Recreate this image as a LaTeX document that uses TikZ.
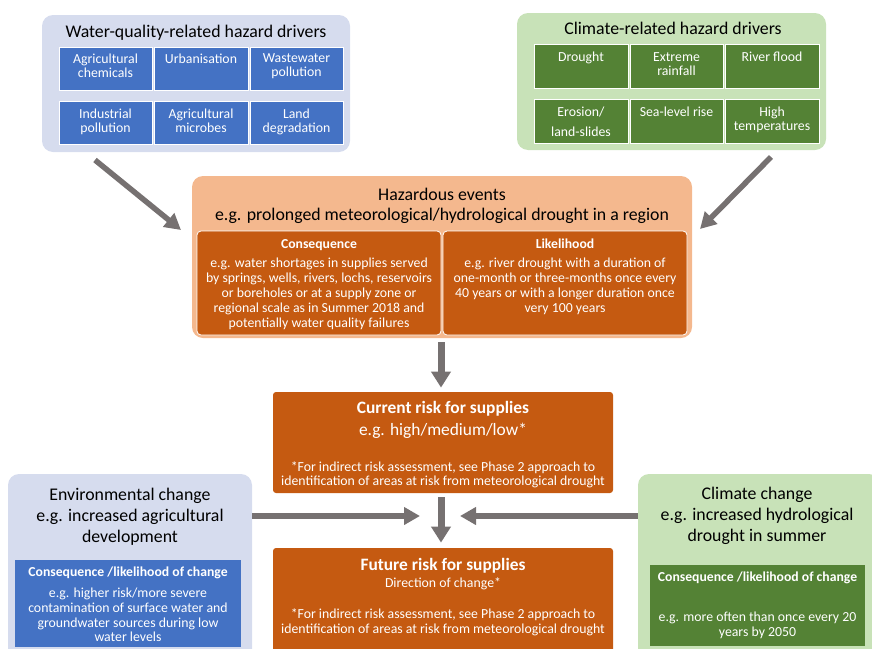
\documentclass[tikz,border=0pt]{standalone}
\usepackage{fontspec}
\setmainfont{Carlito}
\usetikzlibrary{arrows.meta,positioning}
\definecolor{wqlight}{HTML}{D6DCEE}
\definecolor{wqdark}{HTML}{4472C4}
\definecolor{clight}{HTML}{C8E2B8}
\definecolor{cdark}{HTML}{548235}
\definecolor{hzlight}{HTML}{F4B88E}
\definecolor{hzdark}{HTML}{C55A11}
\definecolor{arrowgrey}{HTML}{767171}
\begin{document}
\begin{tikzpicture}[x=1pt,y=-1pt,
    outer/.style={rounded corners=11pt, inner sep=0pt},
    cell/.style={draw=white, line width=0.8pt, inner sep=0pt},
    celltext/.style={anchor=north, inner sep=0pt, align=center, text=white,
      font=\fontsize{13.8}{14}\selectfont},
    titletext/.style={anchor=north, inner sep=0pt, align=center,
      font=\fontsize{17.8}{21}\selectfont},
    headtext/.style={anchor=north, inner sep=0pt, align=center, text=white,
      font=\fontsize{13.7}{14}\selectfont\bfseries},
    bigarrow/.style={draw=arrowgrey, line width=5.5pt, -{Triangle[length=16pt,width=17pt]}},
    downarrow/.style={draw=arrowgrey, line width=7pt, -{Triangle[length=16pt,width=19pt]}}]
  \useasboundingbox (0,0) rectangle (872,648);
  \clip (0,0) rectangle (872,648);

  % water quality drivers
  \node[outer, fill=wqlight, minimum width=308pt, minimum height=137pt] (wq) at (196,83.5) {};
  \node[titletext] (wqtitle) at (196,24.5) {Water-quality-related hazard drivers};
  \node[cell, fill=wqdark, minimum width=93pt, minimum height=43pt] (wq1) at (105.5,68.5) {};
  \node[cell, fill=wqdark, minimum width=94pt, minimum height=43pt] (wq2) at (201,68.5) {};
  \node[cell, fill=wqdark, minimum width=93pt, minimum height=43pt] (wq3) at (296.5,68.5) {};
  \node[cell, fill=wqdark, minimum width=93pt, minimum height=43pt] (wq4) at (105.5,122.5) {};
  \node[cell, fill=wqdark, minimum width=94pt, minimum height=43pt] (wq5) at (201,122.5) {};
  \node[cell, fill=wqdark, minimum width=93pt, minimum height=43pt] (wq6) at (296.5,122.5) {};
  \node[celltext, below=7pt of wq1.north] (wq1t) {Agricultural\\chemicals};
  \node[celltext, below=7pt of wq2.north] (wq2t) {Urbanisation};
  \node[celltext, below=7pt of wq3.north] (wq3t) {Wastewater\\pollution};
  \node[celltext, below=8.5pt of wq4.north] (wq4t) {Industrial\\pollution};
  \node[celltext, below=8.5pt of wq5.north] (wq5t) {Agricultural\\microbes};
  \node[celltext, below=8.5pt of wq6.north] (wq6t) {Land\\degradation};

  % climate drivers
  \node[outer, fill=clight, minimum width=309pt, minimum height=137pt] (cl) at (671.5,81.5) {};
  \node[titletext] (cltitle) at (673,21.5) {Climate-related hazard drivers};
  \node[cell, fill=cdark, minimum width=94pt, minimum height=44pt] (cl1) at (581,66) {};
  \node[cell, fill=cdark, minimum width=93pt, minimum height=44pt] (cl2) at (676.5,66) {};
  \node[cell, fill=cdark, minimum width=94pt, minimum height=44pt] (cl3) at (772,66) {};
  \node[cell, fill=cdark, minimum width=94pt, minimum height=44pt] (cl4) at (581,121) {};
  \node[cell, fill=cdark, minimum width=93pt, minimum height=44pt] (cl5) at (676.5,121) {};
  \node[cell, fill=cdark, minimum width=94pt, minimum height=44pt] (cl6) at (772,121) {};
  \node[celltext, below=8.5pt of cl1.north] (cl1t) {Drought};
  \node[celltext, below=8.5pt of cl2.north] (cl2t) {Extreme\\rainfall};
  \node[celltext, below=8.5pt of cl3.north] (cl3t) {River flood};
  \node[celltext, below=8.5pt of cl4.north] (cl4t) {Erosion/\\[6pt]land-slides};
  \node[celltext, below=8.5pt of cl5.north] (cl5t) {Sea-level rise};
  \node[celltext, below=8.5pt of cl6.north] (cl6t) {High\\temperatures};

  % hazardous events
  \node[outer, fill=hzlight, minimum width=500pt, minimum height=162pt] (hz) at (442,257) {};
  \node[titletext, font=\fontsize{17.8}{20}\selectfont] (hztitle) at (442,187.5)
    {Hazardous events\\e.g. prolonged meteorological/hydrological drought in a region};
  \node[cell, fill=hzdark, rounded corners=4pt, minimum width=244pt, minimum height=104pt] (cons) at (319,283) {};
  \node[cell, fill=hzdark, rounded corners=4pt, minimum width=244pt, minimum height=104pt] (like) at (565,283) {};
  \node[headtext, below=8.5pt of cons.north] (conshead) {Consequence};
  \node[headtext, below=8.5pt of like.north] (likehead) {Likelihood};
  \node[celltext, font=\fontsize{13.8}{15}\selectfont, below=27.5pt of cons.north] (constext)
    {e.g. water shortages in supplies served\\by springs, wells, rivers, lochs, reservoirs\\or boreholes or at a supply zone or\\regional scale as in Summer 2018 and\\potentially water quality failures};
  \node[celltext, font=\fontsize{13.8}{15}\selectfont, below=27.5pt of like.north] (liketext)
    {e.g. river drought with a duration of\\one-month or three-months once every\\40 years or with a longer duration once\\very 100 years};

  % current and future risk
  \node[cell, draw=none, fill=hzdark, rounded corners=3pt, minimum width=340pt, minimum height=101pt] (cur) at (443,442.5) {};
  \node[headtext, font=\fontsize{17.4}{18}\selectfont\bfseries, below=9.5pt of cur.north] (curhead) {Current risk for supplies};
  \node[titletext, font=\fontsize{17.4}{18}\selectfont, text=white, below=31pt of cur.north] (curtext) {e.g. high/medium/low*};
  \node[celltext, below=69.5pt of cur.north] (curnote)
    {*For indirect risk assessment, see Phase 2 approach to\\identification of areas at risk from meteorological drought};
  \node[cell, draw=none, fill=hzdark, rounded corners=3pt, minimum width=340pt, minimum height=112pt] (fut) at (443,604) {};
  \node[headtext, font=\fontsize{17.4}{18}\selectfont\bfseries, below=10.5pt of fut.north] (futhead) {Future risk for supplies};
  \node[celltext, below=29.5pt of fut.north] (futtext) {Direction of change*};
  \node[celltext, font=\fontsize{13.8}{15}\selectfont, below=60.5pt of fut.north] (futnote)
    {*For indirect risk assessment, see Phase 2 approach to\\identification of areas at risk from meteorological drought};

  % environmental change
  \node[outer, fill=wqlight, minimum width=244pt, minimum height=226pt] (env) at (130,587) {};
  \node[titletext, below=14pt of env.north] (envtitle)
    {Environmental change\\e.g. increased agricultural\\development};
  \node[cell, draw=none, fill=wqdark, minimum width=226pt, minimum height=87pt] (envsub) at (128,603.5) {};
  \node[headtext, below=7.5pt of envsub.north] (envhead) {Consequence /likelihood of change};
  \node[celltext, font=\fontsize{13.8}{14.7}\selectfont, below=28.5pt of envsub.north] (envtext)
    {e.g. higher risk/more severe\\contamination of surface water and\\groundwater sources during low\\water levels};

  % climate change
  \node[outer, fill=clight, minimum width=242pt, minimum height=226pt] (cc) at (759,587) {};
  \node[titletext] (cctitle) at (757,487)
    {Climate change\\e.g. increased hydrological\\drought in summer};
  \node[cell, draw=none, fill=cdark, minimum width=215pt, minimum height=81pt] (ccsub) at (757.5,605.5) {};
  \node[headtext, below=7.5pt of ccsub.north] (cchead) {Consequence /likelihood of change};
  \node[celltext, font=\fontsize{13.8}{15}\selectfont, below=47.5pt of ccsub.north] (cctext)
    {e.g. more often than once every 20\\years by 2050};

  % arrows
  \coordinate (wqout) at (95,160);
  \coordinate (hzinl) at (181,230);
  \coordinate (clout) at (771,157);
  \coordinate (hzinr) at (700,229);
  \coordinate (mid) at (441,516);
  \begin{scope}
    \draw[bigarrow] (wqout) -- (hzinl);
    \draw[bigarrow] (clout) -- (hzinr);
    \draw[downarrow, shorten <=4pt, shorten >=4pt] (hz.south -| mid) -- (cur.north -| mid);
    \draw[downarrow, shorten <=4pt, shorten >=5pt] (cur.south -| mid) -- (fut.north -| mid);
    \draw[bigarrow] (env.east |- mid) -- ([xshift=-21pt]mid);
    \draw[bigarrow] (cc.west |- mid) -- ([xshift=19pt]mid);
  \end{scope}
\end{tikzpicture}
\end{document}
